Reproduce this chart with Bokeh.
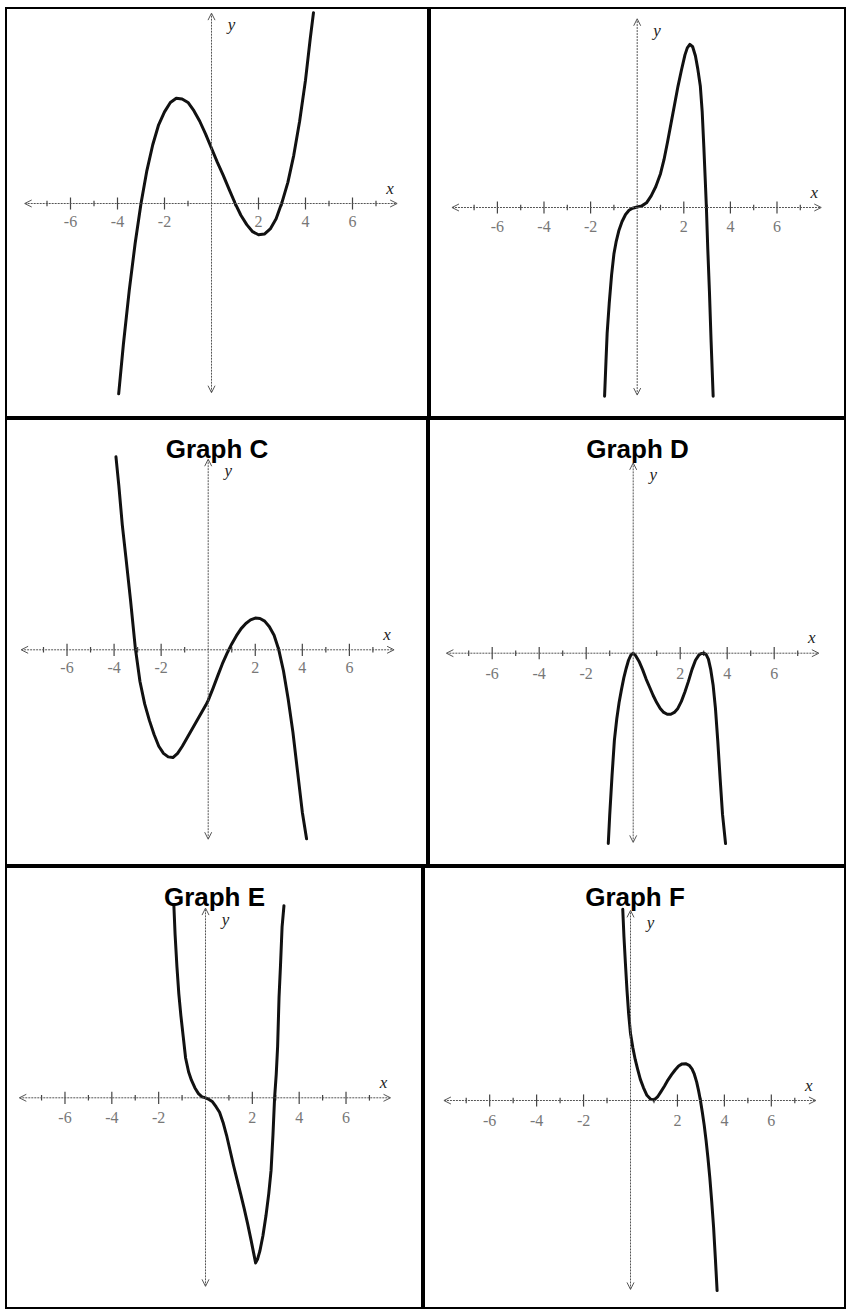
from bokeh.plotting import figure
from bokeh.layouts import column, row
from bokeh.models import Arrow, OpenHead, Label, Range1d, Spacer
from bokeh.core.properties import value
from bokeh.embed import file_html
from bokeh.resources import INLINE

# ---------------- data ----------------
A_x = [-3.95, -3.75, -3.5, -3.25, -3.0, -2.75, -2.5, -2.25, -2.0, -1.75, -1.5, -1.25, -1.0, -0.75,
       -0.5, -0.25, 0.0, 0.25, 0.5, 0.75, 1.0, 1.25, 1.5, 1.75, 2.0, 2.25, 2.5, 2.75, 3.0, 3.25,
       3.5, 3.75, 4.0, 4.2, 4.34]
A_y = [-8.1, -6.0, -3.7, -1.7, 0.0, 1.4, 2.5, 3.35, 3.9, 4.3, 4.48, 4.45, 4.3, 3.95,
       3.5, 2.95, 2.35, 1.75, 1.2, 0.6, 0.02, -0.5, -0.9, -1.2, -1.33, -1.3, -1.08, -0.65, 0.05, 0.9,
       2.05, 3.5, 5.25, 7.0, 8.12]

B_x = [-1.40, -1.34, -1.29, -1.2, -1.1, -1.0, -0.9, -0.79, -0.65, -0.5, -0.35, -0.2, 0.0, 0.2, 0.4,
       0.6, 0.8, 1.0, 1.15, 1.3, 1.45, 1.6, 1.75, 1.9, 2.05, 2.15, 2.26, 2.38, 2.5, 2.6, 2.71, 2.79,
       2.86, 2.92, 2.97, 3.03, 3.1, 3.17, 3.26]
B_y = [-8.1, -6.6, -5.4, -4.1, -2.9, -2.0, -1.45, -1.0, -0.6, -0.3, -0.12, -0.03, 0.02, 0.07, 0.2,
       0.5, 0.9, 1.45, 2.05, 2.8, 3.6, 4.4, 5.2, 5.9, 6.55, 6.85, 7.0, 6.9, 6.5, 5.95, 5.2, 4.1,
       2.6, 1.2, 0.0, -1.8, -3.6, -5.7, -8.1]

C_x = [-3.92, -3.8, -3.65, -3.5, -3.3, -3.1, -2.9, -2.7, -2.5, -2.3, -2.1, -1.9, -1.7, -1.5, -1.3,
       -1.1, -0.9, -0.7, -0.5, -0.3, -0.1, 0.0, 0.2, 0.4, 0.6, 0.8, 1.0, 1.2, 1.4, 1.6, 1.8, 2.0,
       2.2, 2.4, 2.6, 2.8, 3.0, 3.2, 3.4, 3.6, 3.8, 4.0, 4.18]
C_y = [8.2, 7.0, 5.3, 3.95, 2.1, 0.1, -1.35, -2.3, -3.0, -3.6, -4.1, -4.4, -4.55, -4.58, -4.4,
       -4.1, -3.75, -3.4, -3.05, -2.7, -2.35, -2.15, -1.65, -1.12, -0.6, -0.15, 0.25, 0.6, 0.9, 1.12,
       1.27, 1.35, 1.33, 1.22, 0.98, 0.62, 0.0, -0.9, -2.1, -3.5, -5.2, -6.9, -8.03]

D_x = [-1.06, -1.0, -0.9, -0.8, -0.7, -0.6, -0.5, -0.4, -0.3, -0.2, -0.1, 0.0, 0.1, 0.25, 0.4, 0.55,
       0.7, 0.85, 1.0, 1.15, 1.3, 1.45, 1.6, 1.75, 1.9, 2.05, 2.2, 2.35, 2.5, 2.65, 2.8, 2.9, 3.0,
       3.1, 3.2, 3.3, 3.4, 3.5, 3.6, 3.7, 3.8, 3.93]
D_y = [-8.1, -6.9, -5.2, -3.7, -2.8, -2.1, -1.55, -1.05, -0.65, -0.3, -0.08, 0.0, -0.1, -0.35, -0.7,
       -1.1, -1.45, -1.8, -2.1, -2.35, -2.52, -2.6, -2.6, -2.52, -2.35, -2.05, -1.65, -1.2, -0.7,
       -0.3, -0.07, -0.01, 0.0, -0.05, -0.25, -0.7, -1.35, -2.35, -3.75, -5.35, -6.85, -8.1]

E_x = [-1.35, -1.3, -1.22, -1.14, -1.05, -0.95, -0.85, -0.72, -0.6, -0.45, -0.3, -0.15, 0.0, 0.15,
       0.3, 0.45, 0.6, 0.75, 0.9, 1.05, 1.2, 1.35, 1.5, 1.65, 1.8, 1.95, 2.05, 2.14, 2.22, 2.32,
       2.45, 2.58, 2.7, 2.8, 2.88, 2.95, 3.02, 3.08, 3.14, 3.2, 3.27, 3.35]
E_y = [8.2, 7.0, 5.6, 4.45, 3.5, 2.6, 1.7, 1.1, 0.75, 0.42, 0.18, 0.04, 0.0, -0.07,
       -0.17, -0.38, -0.62, -1.05, -1.6, -2.25, -2.9, -3.5, -4.1, -4.72, -5.38, -6.1, -6.6, -7.05,
       -6.9, -6.55, -5.9, -5.05, -4.1, -3.1, -1.6, 0.0, 1.0, 2.2, 4.3, 5.6, 7.3, 8.2]

F_x = [-0.33, -0.28, -0.22, -0.15, -0.08, 0.0, 0.1, 0.2, 0.3, 0.42, 0.55, 0.7, 0.85, 1.0, 1.15,
       1.3, 1.45, 1.6, 1.75, 1.9, 2.05, 2.2, 2.35, 2.5, 2.62, 2.72, 2.82, 2.9, 2.98, 3.06, 3.14,
       3.22, 3.3, 3.38, 3.46, 3.54, 3.62, 3.69]
F_y = [8.15, 7.0, 5.9, 4.7, 3.7, 2.85, 2.25, 1.75, 1.35, 0.9, 0.55, 0.22, 0.06, 0.02, 0.15,
       0.38, 0.62, 0.88, 1.1, 1.3, 1.47, 1.56, 1.57, 1.5, 1.35, 1.12, 0.78, 0.42, 0.0, -0.5, -1.05,
       -1.7, -2.45, -3.3, -4.3, -5.4, -6.8, -8.1]

TICK_MAJOR = [-6, -4, -2, 2, 4, 6]
TICK_LABELS = ["-6", "-4", "-2", "2", "4", "6"]
TICK_MINOR = [-7, -5, -3, -1, 1, 3, 5, 7]
TITLES = {"A": None, "B": None, "C": "Graph C", "D": "Graph D", "E": "Graph E", "F": "Graph F"}
SERIES = {"A": (A_x, A_y), "B": (B_x, B_y), "C": (C_x, C_y),
          "D": (D_x, D_y), "E": (E_x, E_y), "F": (F_x, F_y)}

# ---------------- layout (pixels) ----------------
# width, height, origin x from left, origin y from top, px per unit, label offset (units)
LAYOUT = {
    "A": (424, 411, 206.0, 196.0, 23.5, -0.75),
    "B": (417, 411, 207.7, 200.0, 23.3, -0.8),
    "C": (423, 448, 202.7, 231.3, 23.53, -0.75),
    "D": (418, 448, 204.7, 234.7, 23.5, -0.85),
    "E": (418, 443, 200.0, 231.3, 23.42, -0.85),
    "F": (423, 443, 207.0, 234.0, 23.47, -0.85),
}
AX_X = (-7.95, 7.9)
AX_Y = (-8.05, 8.1)
AXIS_COLOR = "#555555"


def make(key):
    w, h, ox, oy, u, lab_y = LAYOUT[key]
    p = figure(width=w, height=h, title=None, toolbar_location=None, output_backend="svg",
               x_range=Range1d(-ox / u, (w - ox) / u), y_range=Range1d((oy - h) / u, oy / u),
               x_axis_type=None, y_axis_type=None, min_border=0,
               background_fill_color="white", border_fill_color="white",
               outline_line_color="black", outline_line_width=3)
    p.grid.visible = False

    # axes as dotted double-headed arrows
    p.add_layout(Arrow(x_start=AX_X[0], y_start=0, x_end=AX_X[1], y_end=0,
                       line_color=AXIS_COLOR, line_width=1, line_dash="2 1",
                       start=OpenHead(size=7, line_color=AXIS_COLOR, line_width=1),
                       end=OpenHead(size=7, line_color=AXIS_COLOR, line_width=1)))
    p.add_layout(Arrow(x_start=0, y_start=AX_Y[0], x_end=0, y_end=AX_Y[1],
                       line_color=AXIS_COLOR, line_width=1, line_dash="2 1",
                       start=OpenHead(size=7, line_color=AXIS_COLOR, line_width=1),
                       end=OpenHead(size=7, line_color=AXIS_COLOR, line_width=1)))

    # tick marks
    p.segment(x0=TICK_MAJOR, y0=[-0.26] * len(TICK_MAJOR), x1=TICK_MAJOR, y1=[0.26] * len(TICK_MAJOR),
              line_color="#444444", line_width=1.2)
    p.segment(x0=TICK_MINOR, y0=[-0.12] * len(TICK_MINOR), x1=TICK_MINOR, y1=[0.12] * len(TICK_MINOR),
              line_color="#444444", line_width=1.2)

    # tick labels
    p.text(x=TICK_MAJOR, y=[lab_y] * len(TICK_MAJOR), text=TICK_LABELS,
           text_align="center", text_baseline="middle", text_color="#777777",
           text_font=value("Liberation Serif"), text_font_size="16px")

    # axis names
    p.add_layout(Label(x=7.6, y=0.65, text="x", text_align="center", text_baseline="middle",
                       text_font="Liberation Serif", text_font_style="italic",
                       text_font_size="17px", text_color="#222222"))
    p.add_layout(Label(x=0.85, y=7.6, text="y", text_align="center", text_baseline="middle",
                       text_font="Liberation Serif", text_font_style="italic",
                       text_font_size="17px", text_color="#222222"))

    # the curve
    xs, ys = SERIES[key]
    p.line(xs, ys, line_color="#111111", line_width=3, line_join="round", line_cap="round")

    # title inside the cell
    t = TITLES[key]
    if t:
        p.add_layout(Label(x=w / 2, y=h - 30, x_units="screen", y_units="screen", text=t,
                           text_align="center", text_baseline="alphabetic",
                           text_font="Liberation Sans", text_font_style="bold",
                           text_font_size="26px", text_color="black"))
    return p


pA, pB, pC, pD, pE, pF = [make(k) for k in "ABCDEF"]
grid = column(row(pA, pB, spacing=0), row(pC, pD, spacing=0), row(pE, pF, spacing=0), spacing=0)
layout = column(Spacer(height=7, width=10),
                row(Spacer(width=5, height=10), grid, spacing=0), spacing=0)

open("out.html", "w").write(file_html(layout, INLINE))
